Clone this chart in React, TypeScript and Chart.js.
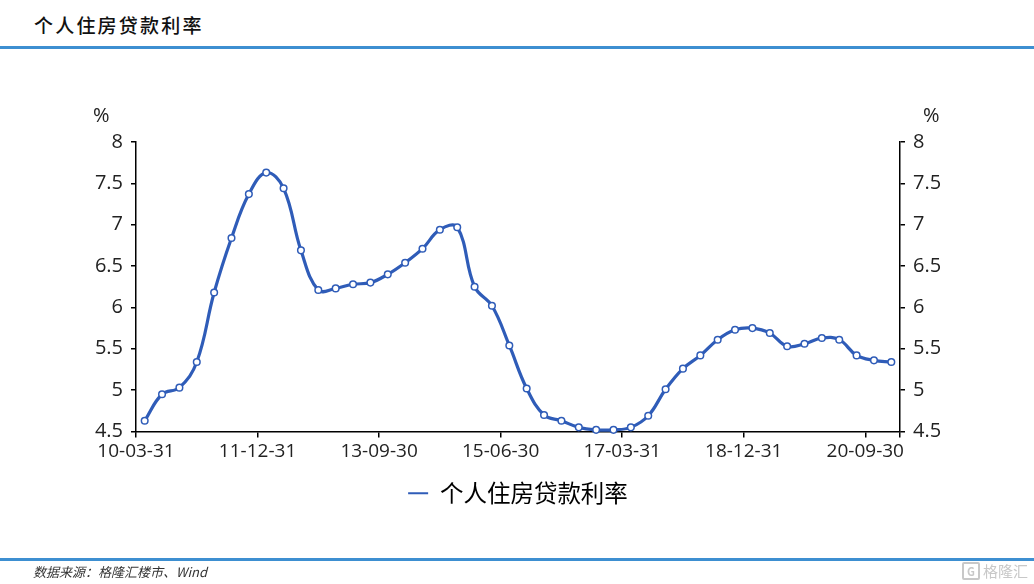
import React, { useEffect, useRef } from 'react';
import { Chart, registerables } from 'chart.js';

Chart.register(...registerables);

const chartTitle = '个人住房贷款利率';
const seriesName = '个人住房贷款利率';
const sourceText = '数据来源：格隆汇楼市、Wind';
const unitLabel = '%';

const categories = [
  '10-03-31', '10-06-30', '10-09-30', '10-12-31',
  '11-03-31', '11-06-30', '11-09-30', '11-12-31',
  '12-03-31', '12-06-30', '12-09-30', '12-12-31',
  '13-03-31', '13-06-30', '13-09-30', '13-12-31',
  '14-03-31', '14-06-30', '14-09-30', '14-12-31',
  '15-03-31', '15-06-30', '15-09-30', '15-12-31',
  '16-03-31', '16-06-30', '16-09-30', '16-12-31',
  '17-03-31', '17-06-30', '17-09-30', '17-12-31',
  '18-03-31', '18-06-30', '18-09-30', '18-12-31',
  '19-03-31', '19-06-30', '19-09-30', '19-12-31',
  '20-03-31', '20-06-30', '20-09-30', '20-12-31',
];

const rates = [
  4.63, 4.95, 5.03, 5.34,
  6.18, 6.84, 7.37, 7.63,
  7.44, 6.69, 6.21, 6.23,
  6.28, 6.30, 6.40, 6.54,
  6.71, 6.94, 6.97, 6.25,
  6.02, 5.54, 5.02, 4.70,
  4.63, 4.55, 4.52, 4.52,
  4.55, 4.69, 5.01, 5.26,
  5.42, 5.61, 5.73, 5.75,
  5.69, 5.53, 5.56, 5.63,
  5.61, 5.42, 5.36, 5.34,
];

const labeledIndices = [0, 7, 14, 21, 28, 35, 42];
const yMin = 4.5;
const yMax = 8;
const yStep = 0.5;

const lineColor = '#2f5cb8';
const accentBlue = '#3d8fd1';

export default function App() {
  const canvasRef = useRef<HTMLCanvasElement | null>(null);

  useEffect(() => {
    const canvas = canvasRef.current;
    if (!canvas) return;

    const xTickFont = { family: "'Open Sans', 'Noto Sans', sans-serif", size: 19 };
    const yTickFont = { family: "'Open Sans', 'Noto Sans', sans-serif", size: 20 };

    const yAxisCommon = (position: 'left' | 'right') => ({
      type: 'linear' as const,
      position,
      min: yMin,
      max: yMax,
      afterFit: (s: any) => {
        s.width = 60;
      },
      ticks: {
        stepSize: yStep,
        padding: 8,
        color: '#222',
        font: yTickFont,
        callback: (v: any) => String(v),
      },
      grid: {
        drawOnChartArea: false,
        drawTicks: true,
        tickLength: 5,
        color: '#000',
        lineWidth: 1.5,
      },
      border: { display: true, color: '#000', width: 1.5 },
    });

    const chart = new Chart(canvas, {
      type: 'line',
      data: {
        datasets: [
          {
            label: seriesName,
            data: rates.map((v, i) => ({ x: i, y: v })),
            borderColor: lineColor,
            backgroundColor: lineColor,
            borderWidth: 3.2,
            tension: 0.4,
            pointRadius: 3.3,
            pointBorderWidth: 1.5,
            pointBackgroundColor: '#ffffff',
            pointBorderColor: lineColor,
            clip: false as any,
            yAxisID: 'y',
          },
        ],
      },
      options: {
        animation: false,
        responsive: false,
        maintainAspectRatio: false,
        layout: { padding: { left: 76, right: 74, top: 142, bottom: 69 } },
        plugins: {
          tooltip: { enabled: false },
          legend: {
            display: true,
            position: 'bottom',
            align: 'center',
            labels: {
              boxWidth: 20,
              boxHeight: 2,
              padding: 10,
              color: '#404040',
              font: { family: "'Noto Sans CJK SC', sans-serif", size: 23.5 },
              generateLabels: () => [
                {
                  text: seriesName,
                  fillStyle: lineColor,
                  strokeStyle: lineColor,
                  lineWidth: 0,
                  hidden: false,
                  datasetIndex: 0,
                } as any,
              ],
            },
          },
        },
        scales: {
          x: {
            type: 'linear',
            min: -0.5,
            max: categories.length - 0.5,
            afterBuildTicks: (s: any) => {
              s.ticks = [
                ...labeledIndices.map((i) => ({ value: i - 0.5 })),
                { value: categories.length - 0.5 },
              ];
            },
            afterFit: (s: any) => {
              s.height = 40;
            },
            ticks: {
              autoSkip: false,
              maxRotation: 0,
              minRotation: 0,
              padding: 3,
              color: '#222',
              font: xTickFont,
              callback: (v: any) => {
                const i = Math.round(Number(v) + 0.5);
                return labeledIndices.includes(i) ? categories[i] : '';
              },
            },
            grid: {
              drawOnChartArea: false,
              drawTicks: true,
              tickLength: 6,
              color: '#000',
              lineWidth: 1.5,
            },
            border: { display: true, color: '#000', width: 1.5 },
          },
          y: yAxisCommon('left'),
          y2: yAxisCommon('right'),
        },
      },
    });

    return () => chart.destroy();
  }, []);

  const unitStyle = {
    position: 'absolute' as const,
    top: 102,
    fontFamily: "'Open Sans', sans-serif",
    fontSize: 20,
    color: '#222',
    lineHeight: '26px',
  };

  return (
    <div
      style={{
        position: 'absolute',
        left: 0,
        top: 0,
        width: 1034,
        height: 584,
        background: '#ffffff',
        overflow: 'hidden',
      }}
    >
      <div
        style={{
          position: 'absolute',
          left: 34,
          top: 11,
          fontFamily: "'Noto Sans CJK SC', serif",
          fontSize: 19,
          fontWeight: 500,
          letterSpacing: 2.2,
          color: '#111',
          lineHeight: '28px',
          whiteSpace: 'nowrap',
        }}
      >
        {chartTitle}
      </div>
      <div
        style={{
          position: 'absolute',
          left: 0,
          top: 46,
          width: 1034,
          height: 2.5,
          background: accentBlue,
        }}
      />
      <canvas
        ref={canvasRef}
        width={1034}
        height={584}
        style={{ position: 'absolute', left: 0, top: 0, width: 1034, height: 584 }}
      />
      <div style={{ ...unitStyle, left: 93 }}>{unitLabel}</div>
      <div style={{ ...unitStyle, left: 923 }}>{unitLabel}</div>
      <div
        style={{
          position: 'absolute',
          left: 0,
          top: 558,
          width: 1034,
          height: 2.5,
          background: accentBlue,
        }}
      />
      <div
        style={{
          position: 'absolute',
          left: 33,
          top: 563,
          fontFamily: "'Noto Sans CJK SC', sans-serif",
          fontSize: 13,
          fontStyle: 'italic',
          color: '#333',
          lineHeight: '18px',
          whiteSpace: 'nowrap',
        }}
      >
        {sourceText}
      </div>
      <div
        style={{
          position: 'absolute',
          left: 962,
          top: 561,
          display: 'flex',
          alignItems: 'center',
          gap: 3,
          color: '#c8c8c8',
          fontFamily: "'Noto Sans CJK SC', sans-serif",
          fontSize: 15,
          lineHeight: '20px',
          whiteSpace: 'nowrap',
        }}
      >
        <span
          style={{
            display: 'inline-block',
            width: 14,
            height: 14,
            border: '2px solid #c8c8c8',
            borderRadius: 2,
            fontSize: 11,
            lineHeight: '14px',
            textAlign: 'center',
            fontWeight: 700,
          }}
        >
          G
        </span>
        <span>格隆汇</span>
      </div>
    </div>
  );
}
